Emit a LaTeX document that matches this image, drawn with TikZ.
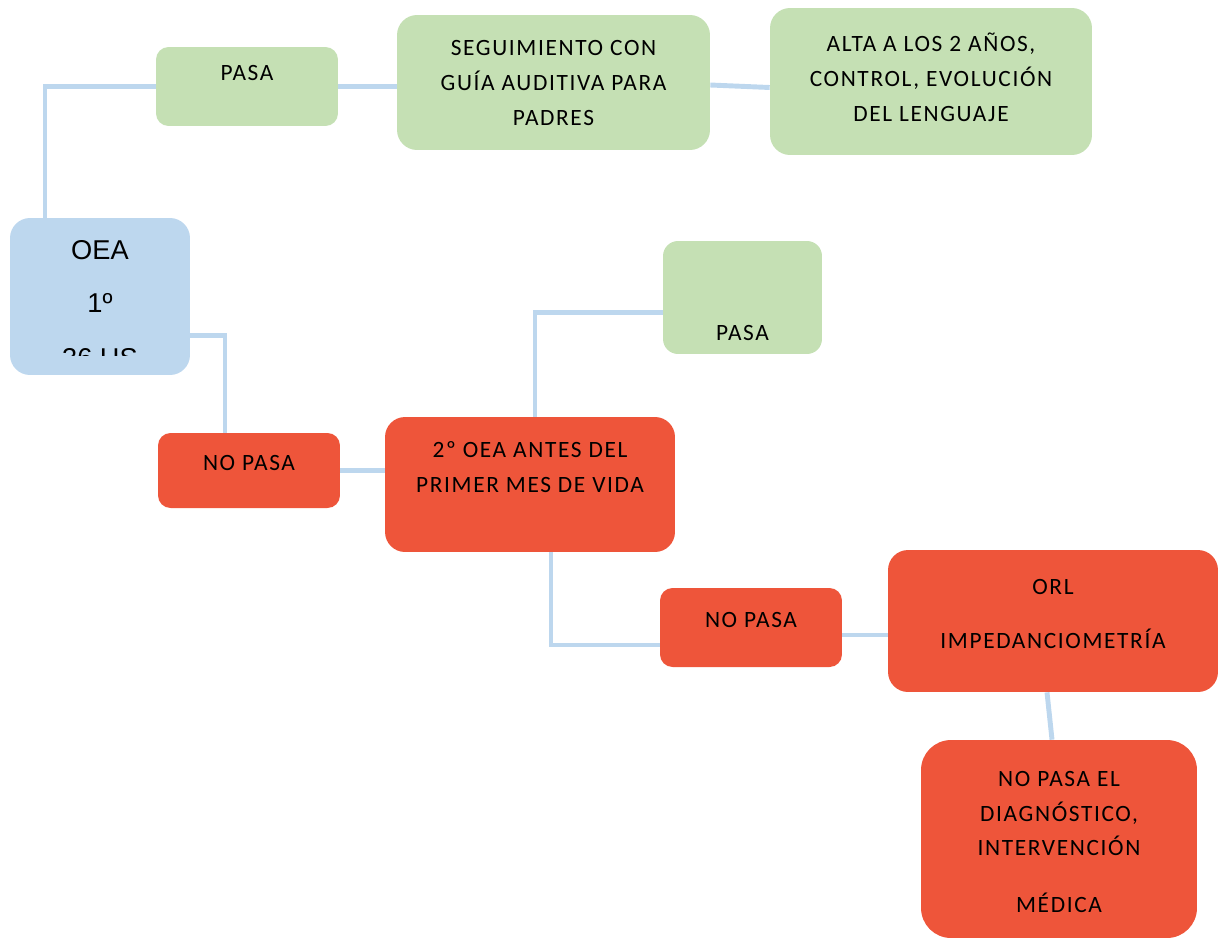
\documentclass[tikz,border=0pt]{standalone}
\usepackage{fontspec}
\setmainfont{Carlito}[LetterSpace=7]
\newfontfamily\oeafont{Liberation Sans}
\usetikzlibrary{positioning}

\definecolor{boxgreen}{RGB}{197,224,180}
\definecolor{boxblue}{RGB}{189,215,238}
\definecolor{boxred}{RGB}{238,85,58}
\definecolor{linkblue}{RGB}{189,215,238}

\begin{document}
\begin{tikzpicture}[
    x=0.02cm, y=-0.02cm,
    box/.style={rectangle, rounded corners=0.4cm, inner sep=0pt},
    okbox/.style={box, fill=boxgreen},
    failbox/.style={box, fill=boxred},
    txt/.style={align=center, inner sep=0pt, font=\fontsize{13.3}{19.8}\selectfont},
    oeatxt/.style={inner sep=0pt, font=\oeafont\fontsize{15.5}{17}\selectfont},
    link/.style={draw=linkblue, line width=2.8pt}
]
\useasboundingbox (0,0) rectangle (1220,940);

% First screening
\node[box, fill=boxblue, minimum width=3.6cm, minimum height=3.14cm] (oea) at (100,296.5) {};
\node[oeatxt] (oea-t1) at (100,250) {OEA};
\node[oeatxt] (oea-t2) at (100,303) {1º};
\begin{scope}
\clip (10,330) rectangle (190,355);
\node[oeatxt] (oea-t3) at (100,358) {36 HS};
\end{scope}

% Upper branch: passes
\node[okbox, rounded corners=0.25cm, minimum width=3.64cm, minimum height=1.58cm] (pasa1) at (247,86.5) {};
\node[txt] (pasa1-t) at (247,73) {PASA};
\node[okbox, minimum width=6.26cm, minimum height=2.7cm] (segui) at (553.5,82.5) {};
\node[txt] (segui-t) at (553.5,83) {SEGUIMIENTO CON\\GUÍA AUDITIVA PARA\\PADRES};
\node[okbox, minimum width=6.44cm, minimum height=2.94cm] (alta) at (931,81.5) {};
\node[txt] (alta-t) at (931,77) {ALTA A LOS 2 AÑOS,\\CONTROL, EVOLUCIÓN\\DEL LENGUAJE};

% Lower branch: does not pass
\node[failbox, rounded corners=0.25cm, minimum width=3.64cm, minimum height=1.5cm] (nopasa1) at (249,470.5) {};
\node[txt] (nopasa1-t) at (249,463) {NO PASA};
\node[failbox, minimum width=5.8cm, minimum height=2.7cm] (oea2) at (530,484.5) {};
\node[txt] (oea2-t) at (530,467) {2º OEA ANTES DEL\\PRIMER MES DE VIDA};
\node[okbox, rounded corners=0.3cm, minimum width=3.18cm, minimum height=2.26cm] (pasa2) at (742.5,297.5) {};
\node[txt] (pasa2-t) at (742.5,333) {PASA};
\node[failbox, rounded corners=0.25cm, minimum width=3.64cm, minimum height=1.58cm] (nopasa2) at (751,627.5) {};
\node[txt] (nopasa2-t) at (751,620) {NO PASA};
\node[failbox, minimum width=6.6cm, minimum height=2.84cm] (orl) at (1053,621) {};
\node[txt] (orl-t) at (1053,614) {ORL\\[0.4cm]IMPEDANCIOMETRÍA};
\node[failbox, rounded corners=0.6cm, minimum width=5.52cm, minimum height=3.96cm] (nopasa3) at (1059,839) {};
\node[txt] (nopasa3-t) at (1059,842) {NO PASA EL\\DIAGNÓSTICO,\\INTERVENCIÓN\\[0.44cm]MÉDICA};

% Connections
\draw[link] ([xshift=-1.1cm]oea.north) |- (pasa1.west);
\draw[link] (pasa1.east) -- (pasa1.east -| segui.west);
\draw[link] ([yshift=-0.05cm]segui.east) -- ([yshift=-0.12cm]alta.west);
\draw[link] ([yshift=-0.78cm]oea.east) -| ([xshift=-0.48cm]nopasa1.north);
\draw[link] (nopasa1.east) -- (nopasa1.east -| oea2.west);
\draw[link] ([xshift=0.1cm]oea2.north) |- ([yshift=-0.3cm]pasa2.west);
\draw[link] ([xshift=0.42cm]oea2.south) |- ([yshift=-0.35cm]nopasa2.west);
\draw[link] ([yshift=-0.15cm]nopasa2.east) -- ([yshift=-0.15cm]nopasa2.east -| orl.west);
\draw[link] ([xshift=-0.12cm]orl.south) -- ([xshift=-0.14cm]nopasa3.north);

\end{tikzpicture}
\end{document}
